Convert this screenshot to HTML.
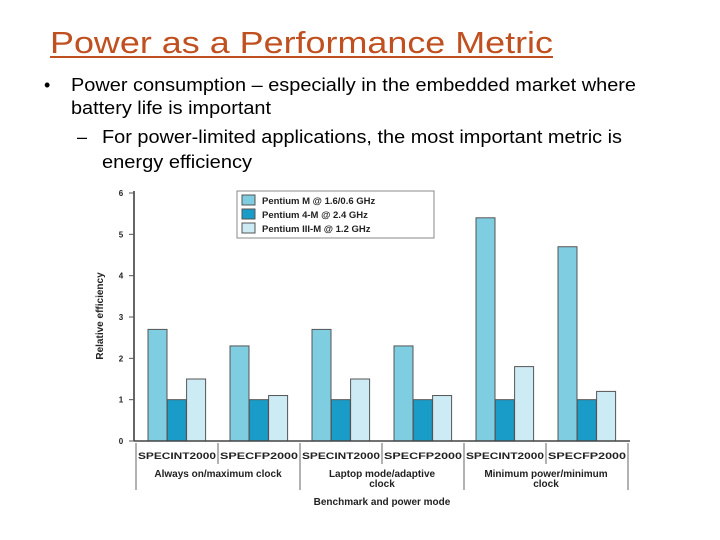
<!DOCTYPE html>
<html><head><meta charset="utf-8"><style>
html,body{margin:0;padding:0;background:#fff;}
svg{display:block;font-family:"Liberation Sans",Arial,sans-serif;}
</style></head><body>
<svg id="s" width="720" height="540" viewBox="0 0 720 540">
<text x="50" y="53" font-size="31" fill="#c0501f" textLength="503" lengthAdjust="spacingAndGlyphs">Power as a Performance Metric</text>
<rect x="50" y="56" width="503" height="2" fill="#c0501f"/>
<text x="44" y="91" font-size="18" fill="#000">•</text>
<text x="71" y="91" font-size="18" fill="#000" textLength="565" lengthAdjust="spacingAndGlyphs">Power consumption – especially in the embedded market where</text>
<text x="71" y="114" font-size="18" fill="#000" textLength="200" lengthAdjust="spacingAndGlyphs">battery life is important</text>
<text x="77" y="143" font-size="18" fill="#000">–</text>
<text x="102" y="143" font-size="18" fill="#000" textLength="520" lengthAdjust="spacingAndGlyphs">For power-limited applications, the most important metric is</text>
<text x="102" y="168" font-size="18" fill="#000" textLength="150" lengthAdjust="spacingAndGlyphs">energy efficiency</text>
<g id="chart"></g>
</svg>
<script>
const categories = ["SPECINT2000","SPECFP2000","SPECINT2000","SPECFP2000","SPECINT2000","SPECFP2000"];
const groups = ["Always on/maximum clock","Laptop mode/adaptive|clock","Minimum power/minimum|clock"];
const seriesNames = ["Pentium M @ 1.6/0.6 GHz","Pentium 4-M @ 2.4 GHz","Pentium III-M @ 1.2 GHz"];
const pentiumM = [2.7,2.3,2.7,2.3,5.4,4.7];
const pentium4M = [1,1,1,1,1,1];
const pentium3M = [1.5,1.1,1.5,1.1,1.8,1.2];
const yTicks = [0,1,2,3,4,5,6];

const NS="http://www.w3.org/2000/svg";
const g=document.getElementById('chart');
function mk(tag,attrs,txt){const e=document.createElementNS(NS,tag);for(const k in attrs)e.setAttribute(k,attrs[k]);if(txt!==undefined)e.textContent=txt;g.appendChild(e);return e;}
const y0=441, yTop=193, x0=136, stride=82;
function yS(v){return y0-(v/6)*(y0-yTop);}
function xCat(i){return x0+i*stride;}
const colors=["#7ecde0","#1a9cc8","#cdebf4"];
const series=[pentiumM,pentium4M,pentium3M];

// y axis
let e=mk('line',{x1:134,y1:yTop-2,x2:134,y2:y0,stroke:'#333','stroke-width':1.5});


yTicks.forEach(t=>{
  let l=mk('line',{x1:129,y1:yS(t),x2:134,y2:yS(t),stroke:'#555'});
  
  
  let tx=mk('text',{x:121,y:yS(t)+3,'font-size':8,'font-weight':'bold','text-anchor':'middle',fill:'#222'},String(t));
  
  
});
e=mk('text',{x:0,y:0,'font-size':10,'font-weight':'bold',fill:'#222','text-anchor':'middle',transform:'translate(103,316) rotate(-90)'},'Relative efficiency');



// bars
categories.forEach((c,i)=>{
  series.forEach((s,j)=>{
    const bx=xCat(i)+12+j*19.3, by=yS(s[i]);
    let r=mk('rect',{x:bx,y:by,width:19,height:y0-by,fill:colors[j],stroke:'#555','stroke-width':1});
    
    
  });
  let t=mk('text',{x:xCat(i)+41,y:459,'font-size':9.5,'font-weight':'bold','text-anchor':'middle',fill:'#222',textLength:78,lengthAdjust:'spacingAndGlyphs'},c);
  
  
  if(i%2==1){
    let l=mk('line',{x1:xCat(i),y1:443,x2:xCat(i),y2:464,stroke:'#999','stroke-width':1.5});
    
    
  }
});
e=mk('line',{x1:134,y1:y0,x2:630,y2:y0,stroke:'#444','stroke-width':1.5});


for(let k=0;k<=3;k++){
  const x=x0+k*2*stride;
  let l=mk('line',{x1:x,y1:443,x2:x,y2:490,stroke:'#999','stroke-width':1.5});
  
  
}
groups.forEach((gname,k)=>{
  const parts=gname.split('|');
  parts.forEach((p,pi)=>{
    let t=mk('text',{x:x0+k*2*stride+stride,y:477+pi*10,'font-size':10,'font-weight':'bold','text-anchor':'middle',fill:'#222'},p);
    
    
  });
});
e=mk('text',{x:382,y:505,'font-size':10,'font-weight':'bold','text-anchor':'middle',fill:'#222'},'Benchmark and power mode');



// legend
e=mk('rect',{x:237,y:191,width:197,height:47,fill:'#fff',stroke:'#888'});


seriesNames.forEach((n,j)=>{
  let r=mk('rect',{x:242,y:195+j*14,width:13,height:10,fill:colors[j],stroke:'#555'});
  
  
  let t=mk('text',{x:262,y:204+j*14,'font-size':9.5,'font-weight':'bold',fill:'#222'},n);
  
  
});
</script>
</body></html>
